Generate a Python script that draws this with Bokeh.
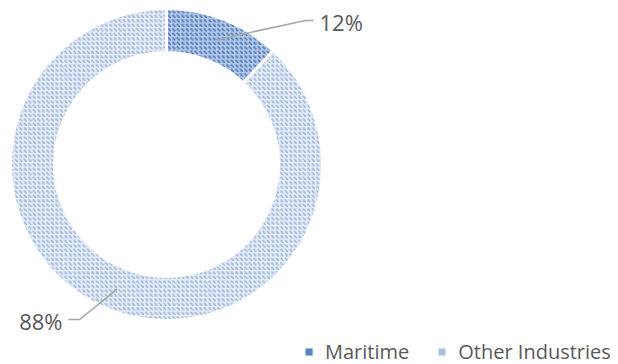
import math
from bokeh.plotting import figure
from bokeh.models import ColumnDataSource, Range1d, Legend, LegendItem
from bokeh.core.properties import value
from bokeh.embed import file_html
from bokeh.resources import INLINE

# ---- data ----
categories = ["Maritime", "Other Industries"]
shares = [12, 88]
labels = ["12%", "88%"]

# ---- styles ----
fill_colors = ["#b2c6e6", "#e4ebf6"]
hatch_colors = ["#4a78bd", "#9db6df"]
legend_colors = ["#5a86c5", "#a9bfe3"]
text_color = "#595959"
leader_color = "#a6a6a6"

W, H = 618, 364
CX, CY = 166, H - 164
R_OUT, R_IN = 156, 112

total = sum(shares)
starts, ends, mids = [], [], []
a = math.pi / 2
for v in shares:
    span = 2 * math.pi * v / total
    starts.append(a)
    ends.append(a - span)
    mids.append(a - span / 2)
    a -= span

p = figure(width=W, height=H, output_backend="svg", toolbar_location=None,
           x_range=Range1d(0, W), y_range=Range1d(0, H),
           min_border=0, outline_line_color=None)
p.axis.visible = False
p.grid.visible = False
p.background_fill_color = "white"
p.border_fill_color = "white"

legend_renderers = []
for i, cat in enumerate(categories):
    src = ColumnDataSource(dict(start=[starts[i]], end=[ends[i]]))
    p.annular_wedge(x=CX, y=CY, inner_radius=R_IN, outer_radius=R_OUT,
                    start_angle="start", end_angle="end", direction="clock",
                    fill_color=fill_colors[i], hatch_color=hatch_colors[i],
                    hatch_pattern="left_diagonal_dash", hatch_scale=4.5, hatch_weight=1.7,
                    line_color="white", line_width=3, source=src)
    # legend swatch renderer (drawn off-canvas)
    lr = p.quad(left=[-200], right=[-190], bottom=[-200], top=[-190],
                fill_color=legend_colors[i], line_color=None)
    legend_renderers.append(lr)

# leader lines and labels
r_mid = (R_IN + R_OUT) / 2
m = mids[0]
x0, y0 = CX + r_mid * math.cos(m), CY + r_mid * math.sin(m)
p.line([x0, 305, 313], [y0, H - 20, H - 20], line_color=leader_color, line_width=1.6)
p.text(x=[319], y=[H - 21], text=[labels[0]], text_align="left", text_baseline="middle",
       text_font=value("Open Sans"), text_font_size="22px", text_color=text_color)
m = mids[1]
x0, y0 = CX + r_mid * math.cos(m), CY + r_mid * math.sin(m)
p.line([x0, 79, 68], [y0, H - 319, H - 319], line_color=leader_color, line_width=1.6)
p.text(x=[62], y=[H - 320], text=[labels[1]], text_align="right", text_baseline="middle",
       text_font=value("Open Sans"), text_font_size="22px", text_color=text_color)

legend = Legend(items=[LegendItem(label=categories[i], renderers=[legend_renderers[i]]) for i in range(2)],
                orientation="horizontal", location=(304, -1),
                glyph_width=9, glyph_height=9, label_standoff=12, spacing=28,
                padding=0, margin=0, border_line_color=None, background_fill_alpha=0,
                label_text_font="Open Sans", label_text_font_size="20px",
                label_text_color=text_color, label_height=20)
p.add_layout(legend, "center")

open("out.html", "w").write(file_html(p, INLINE))
